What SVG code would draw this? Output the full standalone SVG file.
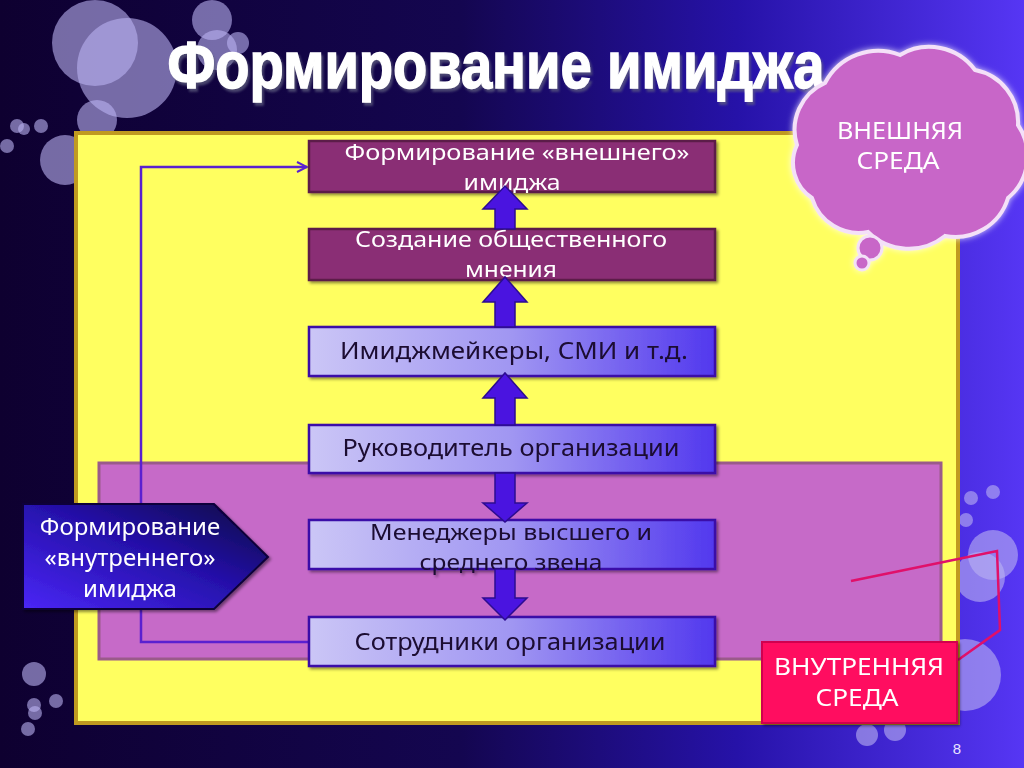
<svg xmlns="http://www.w3.org/2000/svg" width="1024" height="768" viewBox="0 0 1024 768">
<defs>
<linearGradient id="bg" x1="0" y1="0" x2="1" y2="0">
<stop offset="0" stop-color="#0e0030"/>
<stop offset="0.45" stop-color="#140650"/>
<stop offset="0.72" stop-color="#2612a8"/>
<stop offset="1" stop-color="#5636f4"/>
</linearGradient>
<linearGradient id="lightBox" x1="0" y1="0" x2="1" y2="0">
<stop offset="0" stop-color="#cbc6f6"/>
<stop offset="0.5" stop-color="#a096f2"/>
<stop offset="1" stop-color="#5238ee"/>
</linearGradient>
<linearGradient id="penta" x1="0" y1="1" x2="1" y2="0">
<stop offset="0" stop-color="#4a26f6"/>
<stop offset="0.55" stop-color="#2410a8"/>
<stop offset="1" stop-color="#0c0440"/>
</linearGradient>
<filter id="shadow" x="-10%" y="-10%" width="130%" height="140%">
<feDropShadow dx="2" dy="2" stdDeviation="1.5" flood-color="#000" flood-opacity="0.45"/>
</filter>
<filter id="glow" x="-20%" y="-20%" width="140%" height="140%">
<feDropShadow dx="0" dy="0" stdDeviation="3" flood-color="#ffffff" flood-opacity="0.8"/>
</filter>
<filter id="tshadow" x="-5%" y="-20%" width="110%" height="150%">
<feDropShadow dx="2" dy="3" stdDeviation="1" flood-color="#606080" flood-opacity="0.7"/>
</filter>
<marker id="openArrow" viewBox="0 0 12 12" refX="11" refY="6" markerWidth="12" markerHeight="12" markerUnits="userSpaceOnUse" orient="auto">
<path d="M1,1 L11,6 L1,11" fill="none" stroke="#5a20d0" stroke-width="2"/>
</marker>
<style>
.bub{fill:#bab2f2;fill-opacity:0.6}
.dark{fill:#8a2e74;stroke:#5c1e48;stroke-width:2.5}
.light{fill:url(#lightBox);stroke:#3a10a8;stroke-width:2.5}
.wt{font-family:"Noto Sans",sans-serif;font-size:22px;fill:#ffffff;text-anchor:middle}
.bt{font-family:"Noto Sans",sans-serif;font-size:24px;fill:#1a0a30;text-anchor:middle}
.bt2{font-family:"Noto Sans",sans-serif;font-size:22px;fill:#1a0a30;text-anchor:middle}
.cap{font-family:"Noto Sans",sans-serif;font-size:24px;fill:#ffffff;text-anchor:middle}
.arr{fill:#4a14e0;stroke:#2c0c90;stroke-width:1.5}
</style>
</defs>

<rect x="0" y="0" width="1024" height="768" fill="url(#bg)"/>

<g id="bubbles">
<circle class="bub" cx="95" cy="43" r="43"/>
<circle class="bub" cx="127" cy="68" r="50"/>
<circle class="bub" cx="212" cy="20" r="20"/>
<circle class="bub" cx="217" cy="50" r="20"/>
<circle class="bub" cx="238" cy="43" r="11"/>
<circle class="bub" cx="97" cy="120" r="20"/>
<circle class="bub" cx="65" cy="160" r="25"/>
<circle class="bub" cx="17" cy="126" r="7"/>
<circle class="bub" cx="24" cy="129" r="6"/>
<circle class="bub" cx="41" cy="126" r="7"/>
<circle class="bub" cx="7" cy="146" r="7"/>
<circle class="bub" cx="34" cy="674" r="12"/>
<circle class="bub" cx="34" cy="705" r="7"/>
<circle class="bub" cx="56" cy="701" r="7"/>
<circle class="bub" cx="35" cy="713" r="7"/>
<circle class="bub" cx="28" cy="729" r="7"/>
<circle class="bub" cx="971" cy="498" r="7"/>
<circle class="bub" cx="993" cy="492" r="7"/>
<circle class="bub" cx="966" cy="520" r="7"/>
<circle class="bub" cx="993" cy="555" r="25"/>
<circle class="bub" cx="980" cy="577" r="25"/>
<circle class="bub" cx="965" cy="675" r="36"/>
<circle class="bub" cx="867" cy="735" r="11"/>
<circle class="bub" cx="895" cy="730" r="11"/>
</g>

<text id="title" x="496" y="88" font-family="Liberation Sans, Arial, sans-serif" font-weight="bold" font-size="67" fill="#ffffff" stroke="#ffffff" stroke-width="1.5" text-anchor="middle" textLength="657" lengthAdjust="spacingAndGlyphs" filter="url(#tshadow)">Формирование имиджа</text>

<g id="outer-area">
<rect x="76" y="133" width="882" height="590" fill="#ffff60" stroke="#c09a20" stroke-width="4"/>
</g>
<g id="inner-area">
<rect x="99" y="463" width="842" height="196" fill="#c66ac8" stroke="#9a5a8a" stroke-width="3"/>
</g>

<g id="cloud" filter="url(#glow)">
<path d="M797,145 A51,51 0 0 1 825,83 A60,60 0 0 1 900,55 A57,57 0 0 1 975,70 A53,53 0 0 1 1018,125 A55,55 0 0 1 1008,198 A55,55 0 0 1 945,236 A58,58 0 0 1 868,232 A49,49 0 0 1 812,198 A42,42 0 0 1 797,145 Z" fill="#c866c8" stroke="#f4e0f8" stroke-width="4"/>
<circle cx="870" cy="248" r="12" fill="#c866c8" stroke="#f4e0f8" stroke-width="3"/>
<circle cx="862" cy="263" r="7" fill="#c866c8" stroke="#f4e0f8" stroke-width="3"/>
<text class="cap" x="900" y="139" textLength="126" lengthAdjust="spacingAndGlyphs">ВНЕШНЯЯ</text>
<text class="cap" x="898" y="169" textLength="83" lengthAdjust="spacingAndGlyphs">СРЕДА</text>
</g>

<g id="connectors">
<polyline points="309,642 141,642 141,167 307,167" fill="none" stroke="#5a20d0" stroke-width="2.5" marker-end="url(#openArrow)"/>
<polyline points="851,581 997,551 1000,630 958,660" fill="none" stroke="#e0106a" stroke-width="2.5"/>
</g>

<g id="node-external" filter="url(#shadow)">
<rect class="dark" x="309" y="141" width="406" height="51"/>
<text class="wt" x="517" y="160" textLength="345" lengthAdjust="spacingAndGlyphs">Формирование «внешнего»</text>
<text class="wt" x="512" y="190" textLength="97" lengthAdjust="spacingAndGlyphs">имиджа</text>
</g>
<g id="node-opinion" filter="url(#shadow)">
<rect class="dark" x="309" y="229" width="406" height="51"/>
<text class="wt" x="511" y="247" textLength="312" lengthAdjust="spacingAndGlyphs">Создание общественного</text>
<text class="wt" x="511" y="277" textLength="92" lengthAdjust="spacingAndGlyphs">мнения</text>
</g>
<g id="node-media" filter="url(#shadow)">
<rect class="light" x="309" y="327" width="406" height="49"/>
<text class="bt" x="514" y="359" textLength="348" lengthAdjust="spacingAndGlyphs">Имиджмейкеры, СМИ и т.д.</text>
</g>
<g id="node-head" filter="url(#shadow)">
<rect class="light" x="309" y="425" width="406" height="48"/>
<text class="bt" x="511" y="456" textLength="337" lengthAdjust="spacingAndGlyphs">Руководитель организации</text>
</g>
<g id="node-managers" filter="url(#shadow)">
<rect class="light" x="309" y="520" width="406" height="49"/>
<text class="bt2" x="511" y="540" textLength="282" lengthAdjust="spacingAndGlyphs">Менеджеры высшего и</text>
<text class="bt2" x="511" y="570" textLength="183" lengthAdjust="spacingAndGlyphs">среднего звена</text>
</g>
<g id="node-staff" filter="url(#shadow)">
<rect class="light" x="309" y="617" width="406" height="49"/>
<text class="bt" x="510" y="650" textLength="311" lengthAdjust="spacingAndGlyphs">Сотрудники организации</text>
</g>

<g id="block-arrows">
<polygon class="arr" points="495,229 515,229 515,209 527,209 505,186 483,209 495,209"/>
<polygon class="arr" points="495,327 515,327 515,302 527,302 505,277 483,302 495,302"/>
<polygon class="arr" points="495,425 515,425 515,398 527,398 505,373 483,398 495,398"/>
<polygon class="arr" points="495,473 515,473 515,503 527,503 505,522 483,503 495,503"/>
<polygon class="arr" points="495,569 515,569 515,598 527,598 505,620 483,598 495,598"/>
</g>

<g id="node-internal-image" filter="url(#shadow)">
<polygon points="23,504 214,504 268,557 214,609 23,609" fill="url(#penta)" stroke="#10063a" stroke-width="2"/>
<text class="cap" x="130" y="535">Формирование</text>
<text class="cap" x="130" y="566">«внутреннего»</text>
<text class="cap" x="130" y="597">имиджа</text>
</g>

<g id="node-internal-env" filter="url(#shadow)">
<rect x="762" y="642" width="195" height="81" fill="#ff1060" stroke="#d00050" stroke-width="2"/>
<text class="cap" x="859" y="675" textLength="170" lengthAdjust="spacingAndGlyphs">ВНУТРЕННЯЯ</text>
<text class="cap" x="857" y="706" textLength="83" lengthAdjust="spacingAndGlyphs">СРЕДА</text>
</g>

<text x="957" y="754" font-family="Liberation Sans, Arial, sans-serif" font-size="15" fill="#e8e4ff" text-anchor="middle">8</text>
</svg>
